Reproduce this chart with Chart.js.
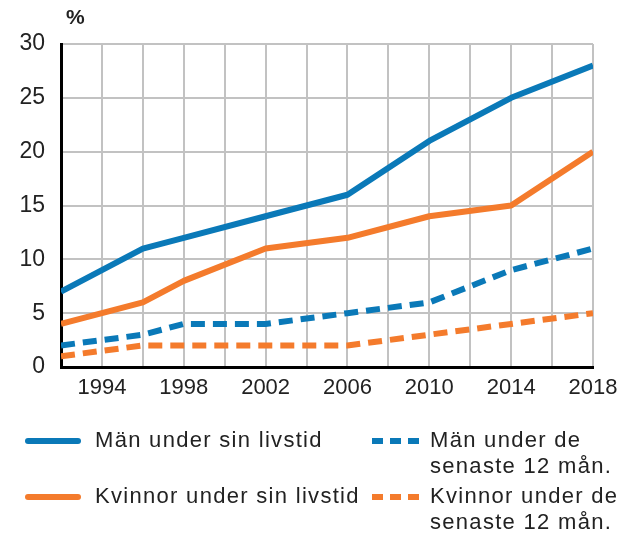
<!DOCTYPE html>
<html>
<head>
<meta charset="utf-8">
<script src="https://cdn.jsdelivr.net/npm/chart.js@4"></script>
<style>
  html, body { margin: 0; padding: 0; background: #fff; }
  #wrap { width: 622px; height: 537px; }
</style>
</head>
<body>
<div id="wrap"><canvas id="chart" width="622" height="537"></canvas></div>
<script>
"use strict";

const years = [1992, 1996, 1998, 2002, 2006, 2010, 2014, 2018];

const man_livstid = [7, 11, 12, 14, 16, 21, 25, 28];
const kvinnor_livstid = [4, 6, 8, 11, 12, 14, 15, 20];
const man_12 = [2, 3, 4, 4, 5, 6, 9, 11];
const kvinnor_12 = [1, 2, 2, 2, 2, 3, 4, 5];

const labels = [
  'Män under sin livstid',
  'Kvinnor under sin livstid',
  'Män under de\nsenaste 12 mån.',
  'Kvinnor under de\nsenaste 12 mån.',
];

const blue = '#0a79b8';
const orange = '#f47b2c';
const font_family = '"Liberation Sans", Arial, Helvetica, sans-serif';

function points(vals) {
  return years.map((y, i) => ({ x: y, y: vals[i] }));
}

/* --- % label and legend drawn on the canvas --- */

const extras = {
  id: 'extras',
  afterDraw(chart) {
    const ctx = chart.ctx;
    ctx.save();
    ctx.fillStyle = '#222';
    ctx.font = 'bold 21px ' + font_family;
    ctx.textBaseline = 'middle';
    ctx.textAlign = 'left';
    ctx.fillText('%', 66, 18);

    const slots = [
      { sx: 28, ex: 78, tx: 95, ty: 441 },
      { sx: 28, ex: 78, tx: 95, ty: 497 },
      { sx: 372, ex: 420, tx: 430, ty: 441 },
      { sx: 372, ex: 420, tx: 430, ty: 497 },
    ];
    ctx.font = '22px ' + font_family;
    ctx.letterSpacing = '1.3px';
    chart.data.datasets.forEach((ds, i) => {
      const s = slots[i];
      ctx.beginPath();
      ctx.strokeStyle = ds.borderColor;
      ctx.lineWidth = 6;
      if (ds.borderDash && ds.borderDash.length) {
        ctx.setLineDash([11, 7]);
        ctx.lineCap = 'butt';
      } else {
        ctx.setLineDash([]);
        ctx.lineCap = 'round';
      }
      ctx.moveTo(s.sx, s.ty);
      ctx.lineTo(s.ex, s.ty);
      ctx.stroke();
      ctx.fillStyle = '#222';
      ds.label.split('\n').forEach((line, j) => {
        ctx.fillText(line, s.tx, s.ty + j * 26);
      });
    });
    ctx.restore();
  }
};

const ctx = document.getElementById('chart');

let chart = new Chart(ctx, {
  type: 'line',
  data: {
    datasets: [
      { label: labels[0], data: points(man_livstid), borderColor: blue },
      { label: labels[1], data: points(kvinnor_livstid), borderColor: orange },
      { label: labels[2], data: points(man_12), borderColor: blue, borderDash: [14, 8] },
      { label: labels[3], data: points(kvinnor_12), borderColor: orange, borderDash: [14, 8] },
    ]
  },
  options: {
    responsive: false,
    animation: false,
    layout: {
      padding: { left: 0, right: 29, top: 44, bottom: 120 }
    },
    elements: {
      point: { radius: 0 },
      line: { borderWidth: 6, tension: 0, borderCapStyle: 'butt', borderJoinStyle: 'round' }
    },
    plugins: {
      legend: { display: false },
      tooltip: { enabled: false },
      title: { display: false }
    },
    scales: {
      x: {
        type: 'linear',
        min: 1992,
        max: 2018,
        afterFit(scale) {
          scale.height = 50;
          scale.paddingLeft = 0;
          scale.paddingRight = 0;
        },
        ticks: {
          stepSize: 2,
          autoSkip: false,
          maxRotation: 0,
          padding: 8,
          color: '#222',
          font: { family: font_family, size: 22 },
          callback: v => ((v - 1994) % 4 === 0 ? String(v) : '')
        },
        grid: { color: '#c2c2c2', lineWidth: 2, drawTicks: false },
        border: { color: '#000', width: 3 }
      },
      y: {
        min: 0,
        max: 30,
        afterFit(scale) { scale.width = 61; },
        ticks: {
          stepSize: 5,
          padding: 16,
          color: '#222',
          font: { family: font_family, size: 23 }
        },
        grid: { color: '#c2c2c2', lineWidth: 2, drawTicks: false },
        border: { color: '#000', width: 3 }
      }
    }
  },
  plugins: [extras]
});
</script>
</body>
</html>
